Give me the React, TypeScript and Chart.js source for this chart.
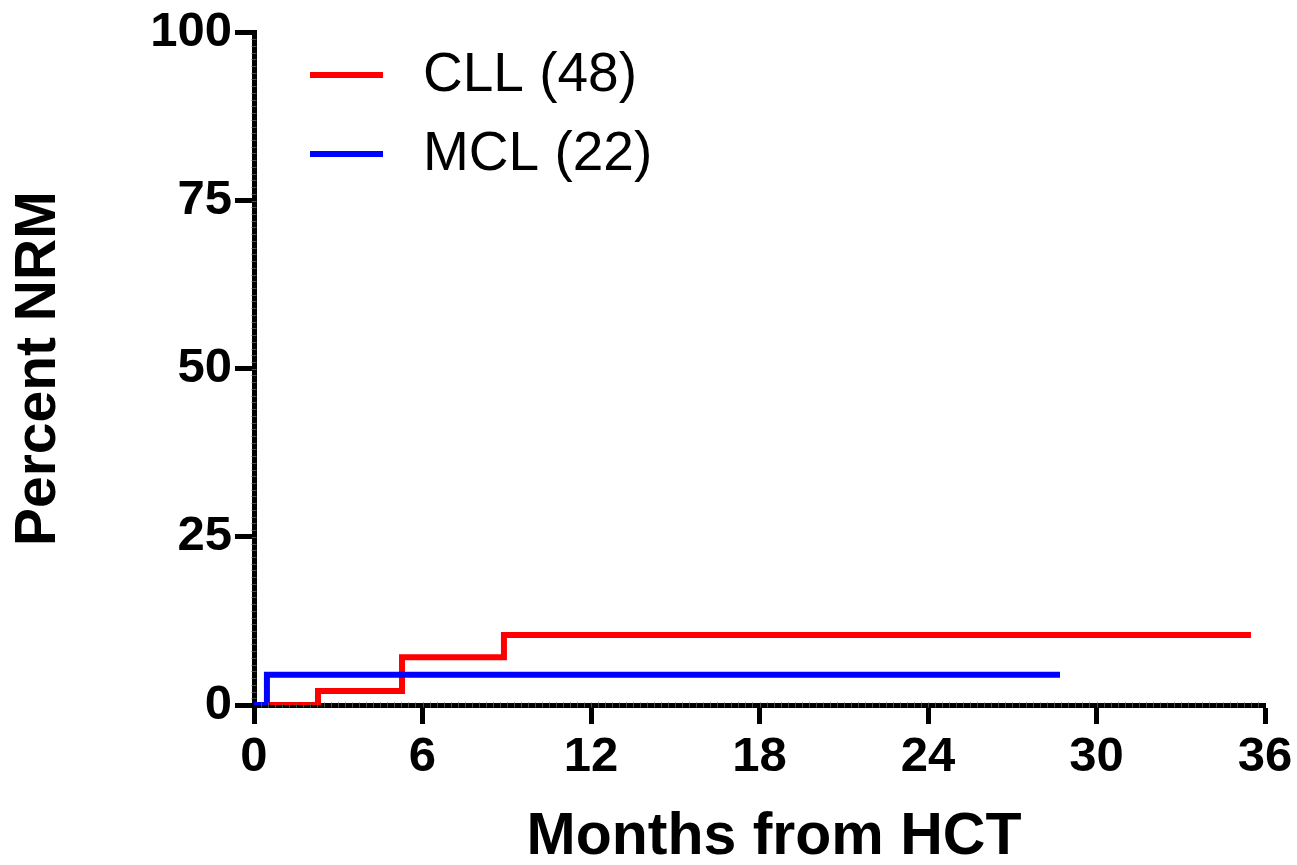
import React, { useEffect, useRef } from "react";
import { Chart, registerables } from "chart.js";

Chart.register(...registerables);

const seriesLabels = ["CLL (48)", "MCL (22)"];
const seriesColors = ["#ff0000", "#0000ff"];
const cllMonths = [0, 2.28, 5.27, 8.9, 35.5];
const cllPercent = [0, 2.1, 7.1, 10.4, 10.4];
const mclMonths = [0, 0.46, 28.7];
const mclPercent = [0, 4.5, 4.5];
const xTicks = [0, 6, 12, 18, 24, 30, 36];
const yTicks = [0, 25, 50, 75, 100];
const xTitle = "Months from HCT";
const yTitle = "Percent NRM";

const FONT = "'Liberation Sans', Arial, Helvetica, sans-serif";

const decorPlugin = {
  id: "decor",
  afterDraw(chart: any) {
    const ctx = chart.ctx;
    ctx.save();
    const xs = chart.scales.x;
    const ys = chart.scales.y;
    // axis texture (minor segment dividers)
    ctx.strokeStyle = "rgba(85,85,85,0.9)";
    ctx.lineWidth = 1;
    for (let v = 1; v < 100; v++) {
      const py = Math.round(ys.getPixelForValue(v)) + 0.5;
      ctx.beginPath();
      ctx.moveTo(chart.chartArea.left - 2.5, py);
      ctx.lineTo(chart.chartArea.left + 2.5, py);
      ctx.stroke();
    }
    for (let v = 0.25; v < 36; v += 0.25) {
      const px = Math.round(xs.getPixelForValue(v)) + 0.5;
      ctx.beginPath();
      ctx.moveTo(px, chart.chartArea.bottom - 2.5);
      ctx.lineTo(px, chart.chartArea.bottom + 2.5);
      ctx.stroke();
    }
    // x axis title
    ctx.fillStyle = "#000";
    ctx.font = `bold 59px ${FONT}`;
    ctx.textAlign = "center";
    ctx.textBaseline = "middle";
    ctx.fillText(xTitle, 774, 838);
    // legend
    const rows = [75, 154];
    chart.data.datasets.forEach((ds: any, i: number) => {
      const y = rows[i];
      ctx.strokeStyle = ds.borderColor;
      ctx.lineWidth = 6;
      ctx.beginPath();
      ctx.moveTo(310, y);
      ctx.lineTo(383, y);
      ctx.stroke();
      ctx.fillStyle = "#000";
      ctx.font = `55px ${FONT}`;
      ctx.textAlign = "left";
      ctx.textBaseline = "middle";
      ctx.fillText(ds.label, 423, y + 1);
    });
    ctx.restore();
  },
};

export default function App() {
  const ref = useRef<HTMLCanvasElement>(null);

  useEffect(() => {
    if (!ref.current) return;
    const chart = new Chart(ref.current, {
      type: "line",
      data: {
        datasets: [
          {
            label: seriesLabels[0],
            data: cllMonths.map((m, i) => ({ x: m, y: cllPercent[i] })),
            borderColor: seriesColors[0],
            backgroundColor: seriesColors[0],
            borderWidth: 6,
            stepped: "before",
            pointRadius: 0,
            fill: false,
            order: 1,
          },
          {
            label: seriesLabels[1],
            data: mclMonths.map((m, i) => ({ x: m, y: mclPercent[i] })),
            borderColor: seriesColors[1],
            backgroundColor: seriesColors[1],
            borderWidth: 6,
            stepped: "before",
            pointRadius: 0,
            fill: false,
            order: 0,
          },
        ],
      },
      options: {
        animation: false,
        responsive: false,
        layout: { padding: { top: 30, right: 32, left: 0, bottom: 0 } },
        plugins: {
          legend: { display: false },
          tooltip: { enabled: false },
        },
        scales: {
          x: {
            type: "linear",
            min: 0,
            max: 36,
            afterFit: (s: any) => {
              s.height = 160;
            },
            afterBuildTicks: (s: any) => {
              s.ticks = xTicks.map((v) => ({ value: v }));
            },
            ticks: {
              color: "#000",
              padding: 4,
              font: { family: FONT, size: 49, weight: "bold" },
            },
            grid: {
              display: true,
              drawOnChartArea: false,
              drawTicks: true,
              tickLength: 19,
              tickWidth: 5,
              tickColor: "#000",
            },
            border: { display: true, color: "#000", width: 5 },
            title: { display: false, text: xTitle },
          },
          y: {
            type: "linear",
            min: 0,
            max: 100,
            afterFit: (s: any) => {
              s.width = 254;
            },
            afterBuildTicks: (s: any) => {
              s.ticks = yTicks.map((v) => ({ value: v }));
            },
            ticks: {
              color: "#000",
              padding: 3,
              font: { family: FONT, size: 49, weight: "bold" },
            },
            grid: {
              display: true,
              drawOnChartArea: false,
              drawTicks: true,
              tickLength: 19,
              tickWidth: 5,
              tickColor: "#000",
            },
            border: { display: true, color: "#000", width: 5 },
            title: {
              display: true,
              text: yTitle,
              color: "#000",
              font: { family: FONT, size: 57, weight: "bold", lineHeight: 1 },
              padding: { top: 11, bottom: 0 },
            },
          },
        },
      },
      plugins: [decorPlugin],
    });
    return () => chart.destroy();
  }, []);

  return (
    <div style={{ position: "absolute", left: 0, top: 0, width: 1297, height: 865, background: "#fff" }}>
      <canvas ref={ref} width={1297} height={865} style={{ display: "block" }} />
    </div>
  );
}
